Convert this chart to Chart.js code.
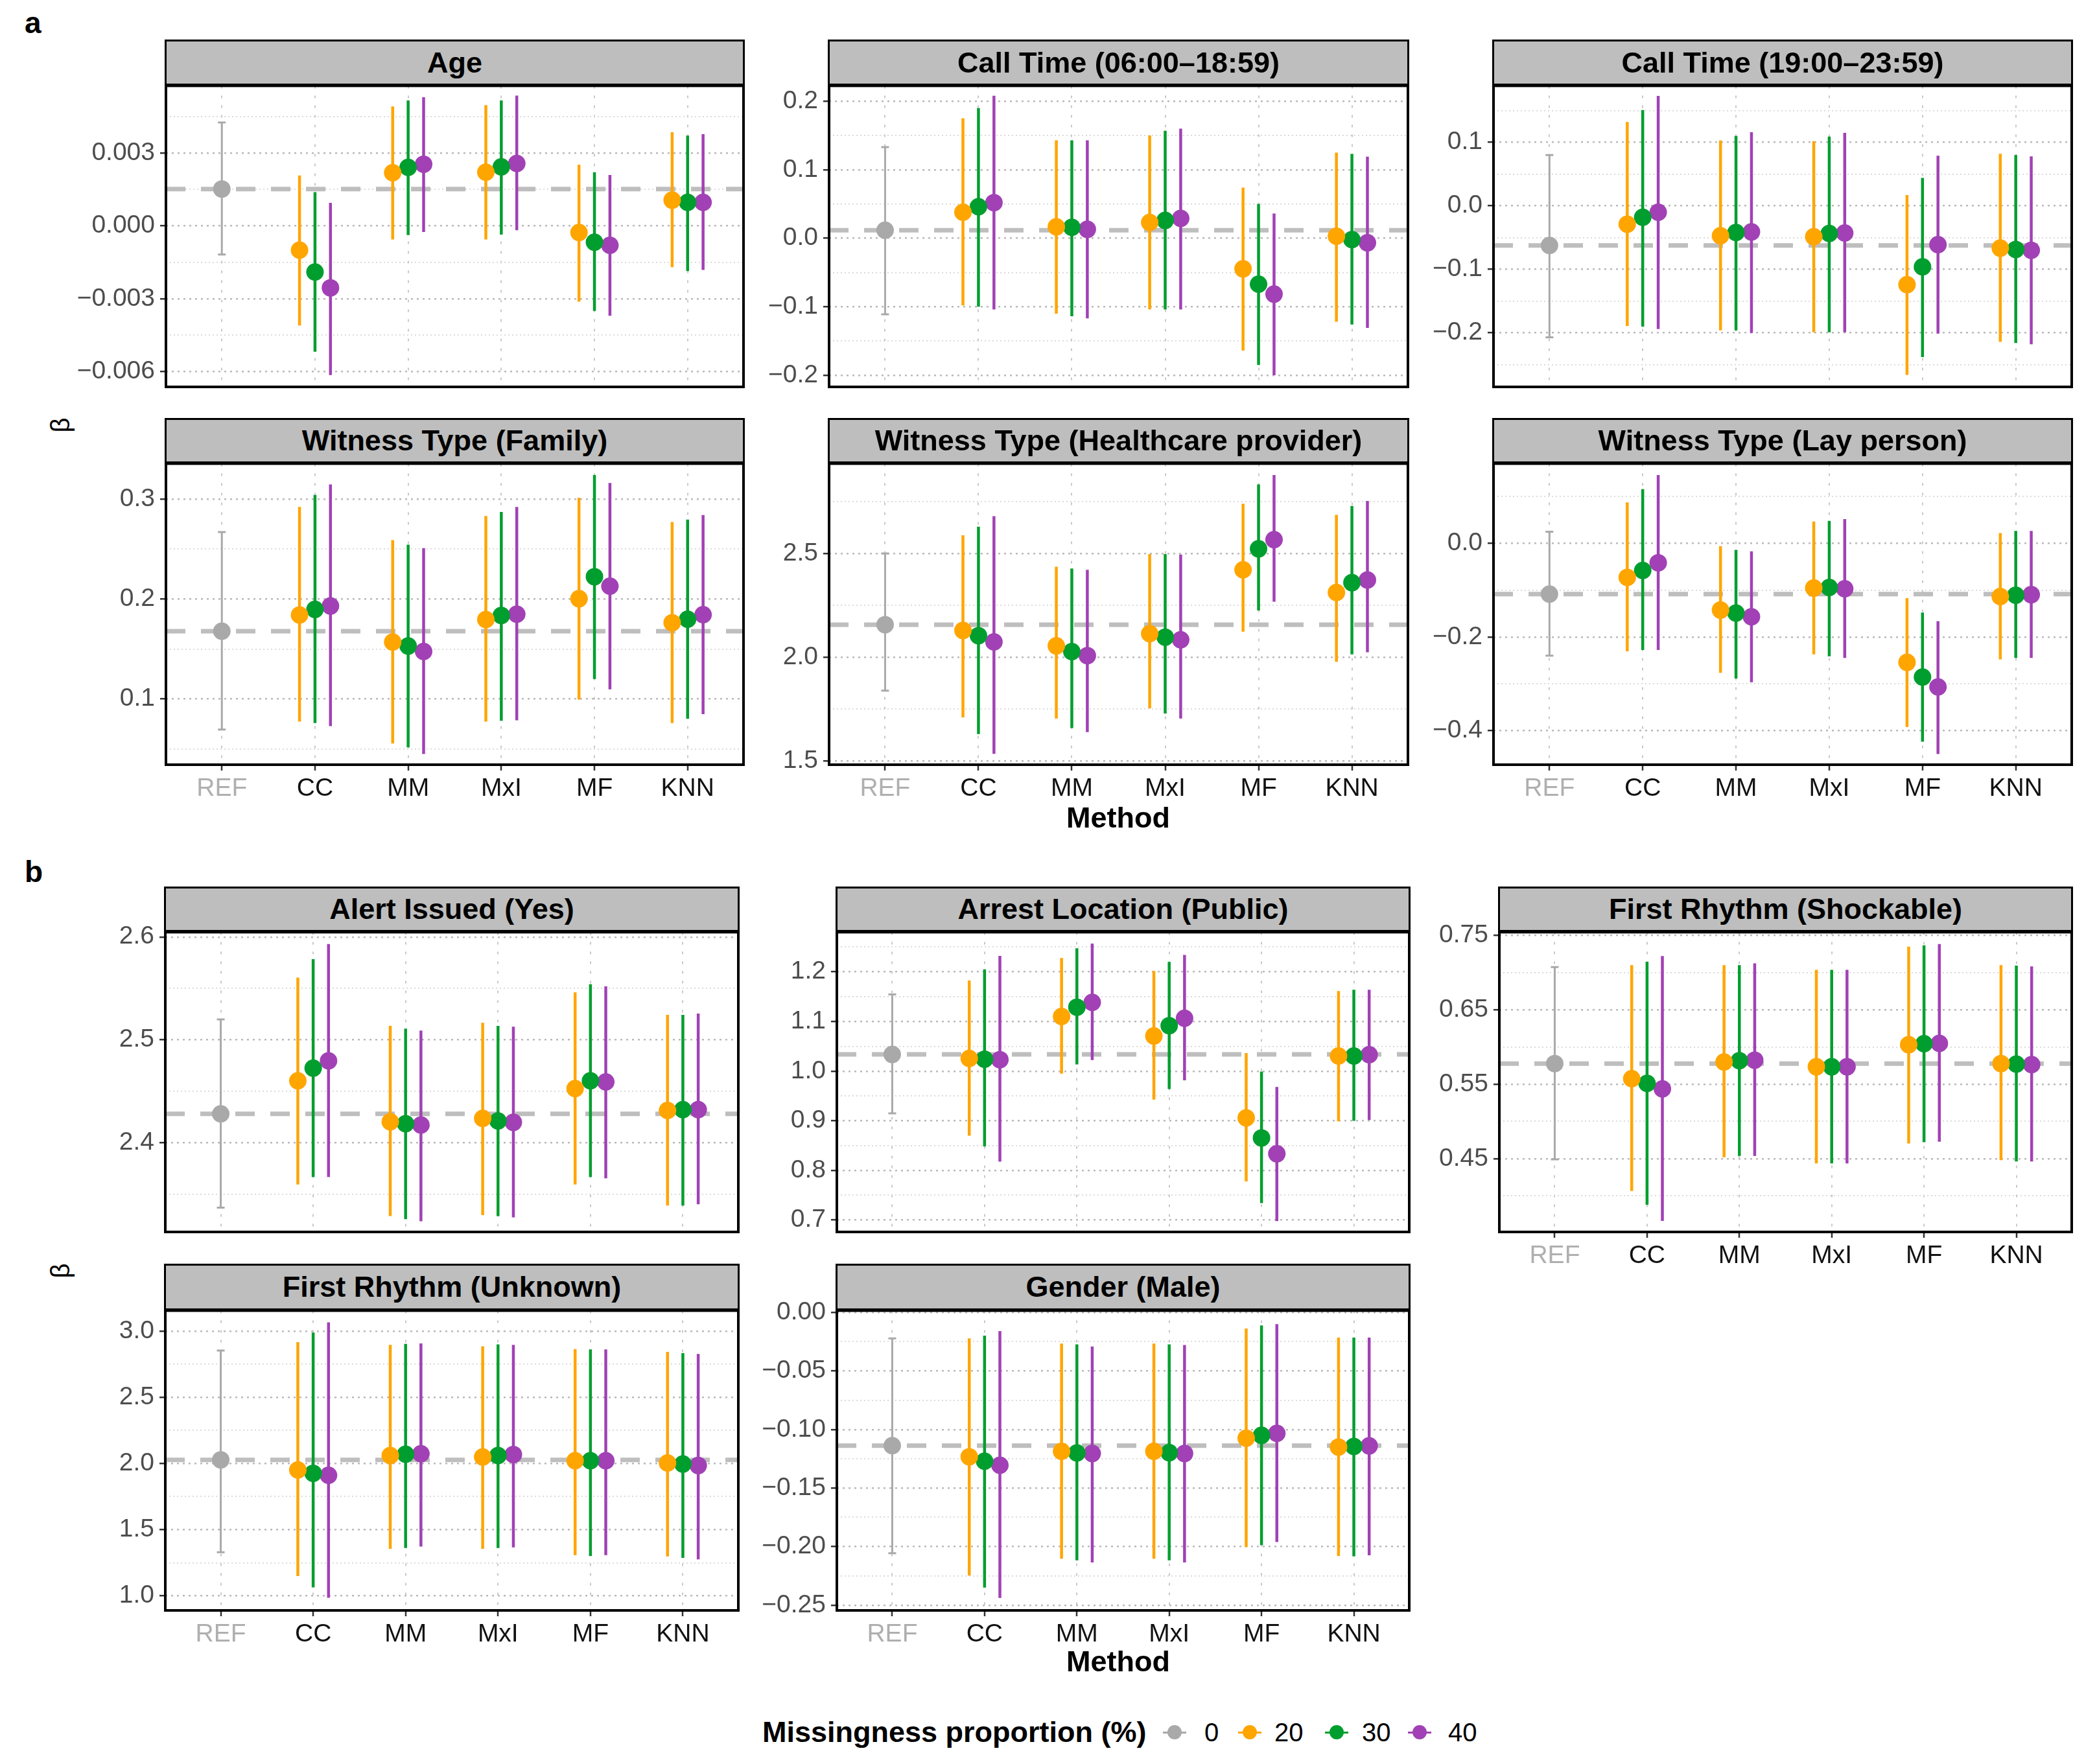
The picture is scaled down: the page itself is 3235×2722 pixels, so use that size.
<!DOCTYPE html>
<html><head><meta charset="utf-8">
<script src="https://cdn.jsdelivr.net/npm/chart.js@4.4.1/dist/chart.umd.min.js"></script>
<style>
html,body{margin:0;padding:0;background:#fff;}
body{width:3235px;height:2722px;position:relative;overflow:hidden;font-family:"Liberation Sans",Arial,sans-serif;}
canvas{position:absolute;z-index:1;}
.strip{position:absolute;z-index:2;box-sizing:border-box;background:#BEBEBE;border:3px solid #000;border-bottom-width:5px;display:flex;align-items:center;justify-content:center;font-weight:bold;font-size:45px;color:#000;white-space:nowrap;}
.txt{position:absolute;z-index:3;white-space:nowrap;color:#000;}
.key{position:absolute;z-index:3;}
</style></head>
<body>
<script>
// ---------------- data ----------------
const methods = ['REF','CC','MM','MxI','MF','KNN'];
const proportions = ['0','20','30','40'];
const titles = ['Age','Call Time (06:00\u201318:59)','Call Time (19:00\u201323:59)','Witness Type (Family)','Witness Type (Healthcare provider)','Witness Type (Lay person)','Alert Issued (Yes)','Arrest Location (Public)','First Rhythm (Shockable)','First Rhythm (Unknown)','Gender (Male)'];

// each row: [estimate, lower, upper]; REF only for 0 %, methods CC..KNN for 20/30/40 %
const age0  = [[0.00152,-0.00118,0.00426]];
const age20 = [[-0.00100,-0.00410,0.00208],[0.00219,-0.00056,0.00492],[0.00221,-0.00056,0.00497],[-0.00027,-0.00312,0.00252],[0.00106,-0.00170,0.00386]];
const age30 = [[-0.00190,-0.00518,0.00139],[0.00241,-0.00038,0.00517],[0.00243,-0.00036,0.00517],[-0.00067,-0.00350,0.00221],[0.00097,-0.00186,0.00372]];
const age40 = [[-0.00255,-0.00614,0.00095],[0.00254,-0.00025,0.00530],[0.00257,-0.00018,0.00537],[-0.00080,-0.00370,0.00210],[0.00097,-0.00181,0.00378]];

const ct1_0  = [[0.0117,-0.111,0.133]];
const ct1_20 = [[0.038,-0.098,0.175],[0.0167,-0.110,0.143],[0.023,-0.104,0.150],[-0.0447,-0.164,0.074],[0.003,-0.122,0.125]];
const ct1_30 = [[0.046,-0.100,0.190],[0.016,-0.114,0.143],[0.026,-0.104,0.157],[-0.067,-0.185,0.050],[-0.002,-0.126,0.123]];
const ct1_40 = [[0.052,-0.104,0.208],[0.013,-0.117,0.143],[0.029,-0.104,0.160],[-0.0816,-0.200,0.036],[-0.0066,-0.131,0.119]];

const ct2_0  = [[-0.0623,-0.207,0.080]];
const ct2_20 = [[-0.029,-0.189,0.132],[-0.047,-0.196,0.103],[-0.0485,-0.199,0.102],[-0.124,-0.266,0.017],[-0.0665,-0.214,0.082]];
const ct2_30 = [[-0.018,-0.190,0.151],[-0.042,-0.196,0.110],[-0.0435,-0.199,0.109],[-0.096,-0.238,0.044],[-0.0686,-0.216,0.080]];
const ct2_40 = [[-0.010,-0.194,0.173],[-0.041,-0.200,0.116],[-0.0427,-0.199,0.115],[-0.061,-0.201,0.079],[-0.070,-0.218,0.078]];

const fam0  = [[0.1678,0.0694,0.267]];
const fam20 = [[0.184,0.0774,0.292],[0.157,0.0556,0.2588],[0.1795,0.0774,0.283],[0.2003,0.0995,0.3013],[0.1763,0.076,0.277]];
const fam30 = [[0.1896,0.076,0.304],[0.153,0.0516,0.2543],[0.1835,0.0782,0.287],[0.2223,0.120,0.324],[0.1798,0.0803,0.2795]];
const fam40 = [[0.193,0.0729,0.3146],[0.1476,0.045,0.251],[0.1848,0.0787,0.292],[0.2128,0.1096,0.316],[0.1843,0.0848,0.284]];

const hc0  = [[2.157,1.839,2.500]];
const hc20 = [[2.129,1.711,2.587],[2.055,1.705,2.436],[2.114,1.754,2.497],[2.421,2.123,2.739],[2.312,1.978,2.685]];
const hc30 = [[2.104,1.630,2.628],[2.027,1.659,2.427],[2.097,1.729,2.497],[2.522,2.225,2.832],[2.359,2.014,2.728]];
const hc40 = [[2.074,1.535,2.679],[2.008,1.640,2.421],[2.084,1.705,2.494],[2.566,2.267,2.877],[2.372,2.024,2.752]];

const lay0  = [[-0.1085,-0.240,0.025]];
const lay20 = [[-0.0727,-0.2307,0.0875],[-0.1426,-0.277,-0.006],[-0.0955,-0.2375,0.0466],[-0.2545,-0.3926,-0.117],[-0.1136,-0.248,0.022]];
const lay30 = [[-0.058,-0.228,0.116],[-0.149,-0.289,-0.014],[-0.0943,-0.2415,0.048],[-0.2858,-0.424,-0.148],[-0.111,-0.245,0.0267]];
const lay40 = [[-0.0415,-0.228,0.146],[-0.157,-0.297,-0.017],[-0.097,-0.245,0.052],[-0.307,-0.4506,-0.1665],[-0.1097,-0.245,0.0267]];

const alert0  = [[2.4282,2.3372,2.520]];
const alert20 = [[2.4603,2.3597,2.5605],[2.4205,2.329,2.5136],[2.4238,2.330,2.5167],[2.4528,2.3597,2.5462],[2.4315,2.3392,2.5244]];
const alert30 = [[2.4726,2.3669,2.5785],[2.4187,2.326,2.511],[2.4213,2.329,2.5136],[2.4603,2.3669,2.554],[2.4323,2.3392,2.5244]];
const alert40 = [[2.4797,2.3669,2.593],[2.4174,2.324,2.509],[2.420,2.3277,2.5128],[2.4592,2.3656,2.552],[2.4323,2.3405,2.5256]];

const arr0  = [[1.0335,0.915,1.1543]];
const arr20 = [[1.0255,0.8697,1.1824],[1.110,0.9947,1.2277],[1.0707,0.9426,1.2016],[0.9058,0.7777,1.0362],[1.0303,0.899,1.1612]];
const arr30 = [[1.024,0.8484,1.2048],[1.1287,1.0133,1.2473],[1.0915,0.9638,1.220],[0.8654,0.734,0.999],[1.0303,0.900,1.1638]];
const arr40 = [[1.023,0.8176,1.2319],[1.1383,1.0223,1.2569],[1.1064,0.9814,1.234],[0.8335,0.698,0.968],[1.033,0.9016,1.1638]];

const shk0  = [[0.5777,0.449,0.7074]];
const shk20 = [[0.5574,0.4064,0.710],[0.5798,0.4518,0.710],[0.5734,0.4436,0.7036],[0.603,0.4702,0.7348],[0.5777,0.4479,0.710]];
const shk30 = [[0.5511,0.3879,0.7145],[0.5816,0.4536,0.710],[0.5734,0.4436,0.7036],[0.6044,0.472,0.7365],[0.577,0.4461,0.7093]];
const shk40 = [[0.5436,0.3663,0.7223],[0.5823,0.4536,0.7124],[0.5734,0.4436,0.7036],[0.6048,0.4727,0.7383],[0.5763,0.4461,0.7083]];

const unk0  = [[2.0276,1.329,2.8535]];
const unk20 = [[1.951,1.149,2.917],[2.060,1.355,2.896],[2.049,1.355,2.885],[2.021,1.308,2.864],[2.004,1.297,2.843]];
const unk30 = [[1.926,1.064,2.989],[2.070,1.361,2.904],[2.060,1.361,2.900],[2.021,1.301,2.862],[1.996,1.287,2.834]];
const unk40 = [[1.911,0.985,3.066],[2.074,1.372,2.907],[2.068,1.366,2.896],[2.021,1.308,2.862],[1.985,1.276,2.828]];

const gen0  = [[-0.1138,-0.2056,-0.0222]];
const gen20 = [[-0.1233,-0.2247,-0.0222],[-0.1186,-0.2104,-0.0267],[-0.1186,-0.2104,-0.0267],[-0.1074,-0.2004,-0.0138],[-0.115,-0.208,-0.0215]];
const gen30 = [[-0.1271,-0.235,-0.0198],[-0.120,-0.2118,-0.0274],[-0.1198,-0.2118,-0.0274],[-0.105,-0.1987,-0.0112],[-0.1145,-0.2083,-0.0215]];
const gen40 = [[-0.1305,-0.2438,-0.016],[-0.1205,-0.2135,-0.0291],[-0.1205,-0.2135,-0.0279],[-0.1033,-0.1961,-0.010],[-0.114,-0.2075,-0.0215]];

// y-axis limits, tick values and tick labels
const ageRange = [-0.00663, 0.00577];
const ageTicks = [-0.006,-0.003,0,0.003];
const ageTickLabels = ['\u22120.006','\u22120.003','0.000','0.003'];
const ct1Range = [-0.217, 0.2225];
const ct1Ticks = [-0.2,-0.1,0,0.1,0.2];
const ct1TickLabels = ['\u22120.2','\u22120.1','0.0','0.1','0.2'];
const ct2Range = [-0.285, 0.189];
const ct2Ticks = [-0.2,-0.1,0,0.1];
const ct2TickLabels = ['\u22120.2','\u22120.1','0.0','0.1'];
const famRange = [0.0343, 0.3354];
const famTicks = [0.1,0.2,0.3];
const famTickLabels = ['0.1','0.2','0.3'];
const hcRange = [1.483, 2.932];
const hcTicks = [1.5,2.0,2.5];
const hcTickLabels = ['1.5','2.0','2.5'];
const layRange = [-0.4733, 0.1705];
const layTicks = [-0.4,-0.2,0];
const layTickLabels = ['\u22120.4','\u22120.2','0.0'];
const alertRange = [2.3136, 2.6046];
const alertTicks = [2.4,2.5,2.6];
const alertTickLabels = ['2.4','2.5','2.6'];
const arrRange = [0.676, 1.2798];
const arrTicks = [0.7,0.8,0.9,1.0,1.1,1.2];
const arrTickLabels = ['0.7','0.8','0.9','1.0','1.1','1.2'];
const shkRange = [0.3514, 0.7543];
const shkTicks = [0.45,0.55,0.65,0.75];
const shkTickLabels = ['0.45','0.55','0.65','0.75'];
const unkRange = [0.89, 3.155];
const unkTicks = [1.0,1.5,2.0,2.5,3.0];
const unkTickLabels = ['1.0','1.5','2.0','2.5','3.0'];
const genRange = [-0.2545, 0.0015];
const genTicks = [-0.25,-0.2,-0.15,-0.1,-0.05,0];
const genTickLabels = ['\u22120.25','\u22120.20','\u22120.15','\u22120.10','\u22120.05','0.00'];

// ---------------- style / layout ----------------
const COLORS = ['#A9A9A9','#FFA500','#009E2E','#A141B5'];
const BAR_W = [3,4.5,4.5,4.5];
const DODGE = [-0.166, 0, 0.166];
const X_MIN = -0.6, X_MAX = 5.6;
const FONT = '"Liberation Sans", Arial, sans-serif';

const panels = [
  {title:titles[0],  s:[age0,age20,age30,age40],     range:ageRange,  ticks:ageTicks,  labels:ageTickLabels,  box:[256,131,1147,597],  strip:61,   xlab:false},
  {title:titles[1],  s:[ct1_0,ct1_20,ct1_30,ct1_40], range:ct1Range,  ticks:ct1Ticks,  labels:ct1TickLabels,  box:[1279,131,2172,597], strip:61,   xlab:false},
  {title:titles[2],  s:[ct2_0,ct2_20,ct2_30,ct2_40], range:ct2Range,  ticks:ct2Ticks,  labels:ct2TickLabels,  box:[2304,131,3196,597], strip:61,   xlab:false},
  {title:titles[3],  s:[fam0,fam20,fam30,fam40],     range:famRange,  ticks:famTicks,  labels:famTickLabels,  box:[256,714,1147,1180], strip:645,  xlab:true},
  {title:titles[4],  s:[hc0,hc20,hc30,hc40],         range:hcRange,   ticks:hcTicks,   labels:hcTickLabels,   box:[1279,714,2172,1180],strip:645,  xlab:true},
  {title:titles[5],  s:[lay0,lay20,lay30,lay40],     range:layRange,  ticks:layTicks,  labels:layTickLabels,  box:[2304,714,3196,1180],strip:645,  xlab:true},
  {title:titles[6],  s:[alert0,alert20,alert30,alert40], range:alertRange, ticks:alertTicks, labels:alertTickLabels, box:[255,1437,1139,1901], strip:1368, xlab:false},
  {title:titles[7],  s:[arr0,arr20,arr30,arr40],     range:arrRange,  ticks:arrTicks,  labels:arrTickLabels,  box:[1291,1437,2174,1901],strip:1368, xlab:false},
  {title:titles[8],  s:[shk0,shk20,shk30,shk40],     range:shkRange,  ticks:shkTicks,  labels:shkTickLabels,  box:[2313,1437,3196,1901],strip:1368, xlab:true},
  {title:titles[9],  s:[unk0,unk20,unk30,unk40],     range:unkRange,  ticks:unkTicks,  labels:unkTickLabels,  box:[255,2021,1139,2485], strip:1950, xlab:true},
  {title:titles[10], s:[gen0,gen20,gen30,gen40],     range:genRange,  ticks:genTicks,  labels:genTickLabels,  box:[1291,2021,2174,2485],strip:1950, xlab:true}
];

const framePlugin = {
  id:'frame',
  afterDraw(chart){
    const {ctx, chartArea:a} = chart;
    ctx.save();
    ctx.strokeStyle = '#000';
    ctx.lineWidth = 4;
    ctx.strokeRect(a.left, a.top, a.right - a.left, a.bottom - a.top);
    ctx.restore();
  }
};

function addText(text, css){
  const d = document.createElement('div');
  d.className = 'txt';
  d.textContent = text;
  Object.assign(d.style, css);
  document.body.appendChild(d);
  return d;
}

function makePanel(p){
  const Yw = 240, P = 30, Xh = p.xlab ? 80 : 34;
  const [l,t,r,b] = p.box;
  const w = (r - l) + Yw + P, h = (b - t) + P + Xh;
  const cv = document.createElement('canvas');
  cv.width = w; cv.height = h;
  cv.style.left = (l - Yw) + 'px'; cv.style.top = (t - P) + 'px';
  cv.style.width = w + 'px'; cv.style.height = h + 'px';
  document.body.appendChild(cv);

  // strip
  const st = document.createElement('div');
  st.className = 'strip';
  st.textContent = p.title;
  Object.assign(st.style, {left:(l-2)+'px', top:p.strip+'px', width:(r-l+4)+'px', height:(t+3-p.strip)+'px'});
  document.body.appendChild(st);

  // y ticks incl. minor breaks
  const step = p.ticks[1] - p.ticks[0];
  const yt = [];
  for (let v = p.ticks[0] - step/2; v <= p.range[1] + 1e-12; v += step/2) {
    if (v < p.range[0] - 1e-12) continue;
    const k = p.ticks.findIndex(tv => Math.abs(tv - v) < step*1e-3);
    yt.push({value: v, minor: k < 0, label: k < 0 ? '' : p.labels[k]});
  }

  const ds = [];
  const ref = p.s[0][0];
  ds.push({type:'line', data:[{x:X_MIN,y:ref[0]},{x:X_MAX,y:ref[0]}], borderColor:'#BEBEBE', borderWidth:7,
           borderDash:[30,24], pointRadius:0, order:20, clip:false});
  // REF interval + caps + point
  ds.push({type:'bar', data:[{x:0, y:[ref[1], ref[2]]}], backgroundColor:COLORS[0], maxBarThickness:BAR_W[0], grouped:false, borderWidth:0, order:10});
  ds.push({type:'scatter', data:[{x:0,y:ref[1]},{x:0,y:ref[2]}], pointStyle:'line', pointRadius:6, borderColor:COLORS[0], borderWidth:3, order:9});
  ds.push({type:'scatter', data:[{x:0,y:ref[0]}], pointRadius:13.5, backgroundColor:COLORS[0], borderWidth:0, order:1});
  for (let k = 1; k <= 3; k++) {
    const arr = p.s[k];
    ds.push({type:'bar', data:arr.map((v,i)=>({x:i+1+DODGE[k-1], y:[v[1], v[2]]})), backgroundColor:COLORS[k],
             maxBarThickness:BAR_W[k], grouped:false, borderWidth:0, order:10-k});
    ds.push({type:'scatter', data:arr.map((v,i)=>({x:i+1+DODGE[k-1], y:v[0]})), pointRadius:13.5,
             backgroundColor:COLORS[k], borderWidth:0, order:1});
  }

  new Chart(cv, {
    type:'bar',
    data:{datasets:ds},
    plugins:[framePlugin],
    options:{
      responsive:false, animation:false, events:[],
      layout:{padding:{top:P, right:P, left:0, bottom:0}},
      plugins:{legend:{display:false}, tooltip:{enabled:false}},
      scales:{
        x:{type:'linear', min:X_MIN, max:X_MAX, offset:false,
           afterBuildTicks:s=>{ s.ticks = methods.map((m,i)=>({value:i})); },
           afterFit:s=>{ s.height = Xh; },
           ticks:{display:p.xlab, autoSkip:false, maxRotation:0, padding:5,
                  font:{size:39, family:FONT}, color:c=> (c.tick && c.tick.value===0) ? '#AFAFAF' : '#111111',
                  callback:v=>methods[Math.round(v)]},
           grid:{offset:false, color:'#C8C8C8', lineWidth:2, drawTicks:p.xlab, tickLength:9, tickColor:'#333', tickWidth:2.5, tickBorderDash:[]},
           border:{display:false, dash:[4,11]}
        },
        y:{type:'linear', min:p.range[0], max:p.range[1], beginAtZero:false,
           afterBuildTicks:s=>{ s.ticks = yt.map(o=>({value:o.value, minor:o.minor, lab:o.label})); },
           afterFit:s=>{ s.width = Yw; },
           ticks:{autoSkip:false, padding:8, font:{size:39, family:FONT}, color:'#4D4D4D',
                  callback:(v,i,ts)=> ts[i].lab},
           grid:{color:c=> (c.tick && c.tick.minor) ? '#D6D6D6' : '#BABABA',
                 lineWidth:c=> (c.tick && c.tick.minor) ? 1.8 : 2.4,
                 tickLength:9, tickColor:'#333', tickWidth:c=> (c.tick && c.tick.minor) ? 0 : 2.5, tickBorderDash:[]},
           border:{display:false, dash:c=> (c.tick && c.tick.minor) ? [2,4] : [3,6]}
        }
      }
    }
  });
}

panels.forEach(makePanel);

// panel letters, axis titles
addText('a', {left:'38px', top:'8px', fontSize:'46px', fontWeight:'bold'});
addText('b', {left:'38px', top:'1318px', fontSize:'46px', fontWeight:'bold'});
[656, 1961].forEach(y => {
  addText('\u03B2', {left:'93px', top:y+'px', fontSize:'40px', transform:'translate(-50%,-50%) rotate(-90deg)'});
});
[1262, 2564].forEach(y => {
  addText('Method', {left:'1725px', top:y+'px', fontSize:'45px', fontWeight:'bold', transform:'translate(-50%,-50%)'});
});

// legend
addText('Missingness proportion (%)', {left:'1176px', top:'2673px', fontSize:'45px', fontWeight:'bold', transform:'translateY(-50%)'});
const keyX = [1812, 1928, 2062, 2190];
const keyLabelX = [1858, 1966, 2101, 2234];
proportions.forEach((lab, k) => {
  const ln = document.createElement('div');
  ln.className = 'key';
  Object.assign(ln.style, {left:(keyX[k]-18)+'px', top:(2673-1.5)+'px', width:'36px', height:'3px', background:COLORS[k]});
  document.body.appendChild(ln);
  const dot = document.createElement('div');
  dot.className = 'key';
  Object.assign(dot.style, {left:(keyX[k]-11)+'px', top:(2673-11)+'px', width:'22px', height:'22px', borderRadius:'50%', background:COLORS[k]});
  document.body.appendChild(dot);
  addText(lab, {left:keyLabelX[k]+'px', top:'2673px', fontSize:'40px', transform:'translateY(-50%)'});
});
</script>
</body></html>
